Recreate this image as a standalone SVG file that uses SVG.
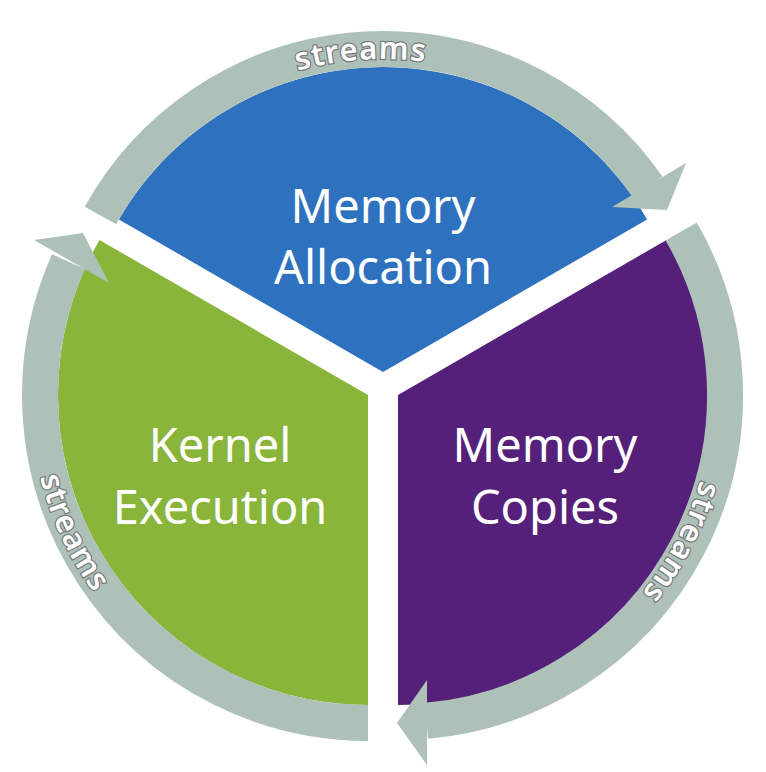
<svg xmlns="http://www.w3.org/2000/svg" width="766" height="772" viewBox="0 0 766 772">
<style>
.ring{fill:none;stroke:#adc1b9;stroke-width:36}
.head{fill:#adc1b9}
.lbl{fill:#fff;font-family:"Noto Sans",sans-serif;font-size:47px;text-anchor:middle}
.st{fill:#fff;stroke:#7a7a7a;stroke-width:2.5;paint-order:stroke;font-family:"Noto Sans",sans-serif;font-weight:600;font-size:31px;letter-spacing:1px}
</style>
<defs>
<path id="pTop" d="M143.2,170.8 A313 313 0 0 1 592.4,139.4"/>
<path id="pLeft" d="M50.4,279.4 A338 338 0 0 0 252.4,712.6"/>
<path id="pRight" d="M693.1,287.6 A314 314 0 0 1 479.3,698.3"/>
</defs>
<rect width="766" height="772" fill="#fff"/>
<g id="alloc">
<path d="M383,372 L118.9,219.5 A305 305 0 0 1 647.1,219.5 Z" fill="#2e72bf"/>
<text class="lbl" x="383" y="223">Memory</text>
<text class="lbl" x="383" y="284">Allocation</text>
</g>
<g id="copies">
<path d="M398,395 L666.5,240 A310 310 0 0 1 398,705 Z" fill="#55207a"/>
<text class="lbl" x="545" y="462">Memory</text>
<text class="lbl" x="545" y="524">Copies</text>
</g>
<g id="kernel">
<path d="M368,395 L368,705 A310 310 0 0 1 99.5,240 Z" fill="#88b53a"/>
<text class="lbl" x="220" y="462">Kernel</text>
<text class="lbl" x="220" y="524">Execution</text>
</g>
<g id="connectors">
<path class="ring" d="M100.5,215.4 A323 323 0 0 1 647.6,186.7"/>
<polygon class="head" points="612,207 686,163 667,210"/>
<path class="ring" d="M681.2,231.5 A327 327 0 0 1 426.5,720.8"/>
<polygon class="head" points="427,680 427,765 397,723"/>
<path class="ring" d="M368,723 A328 328 0 0 1 68.4,261.6"/>
<polygon class="head" points="34,240 109,283 83,233"/>
<text class="st"><textPath href="#pTop" startOffset="50%" text-anchor="middle">streams</textPath></text>
<text class="st"><textPath href="#pLeft" startOffset="50%" text-anchor="middle">streams</textPath></text>
<text class="st"><textPath href="#pRight" startOffset="50%" text-anchor="middle">streams</textPath></text>
</g>
</svg>
